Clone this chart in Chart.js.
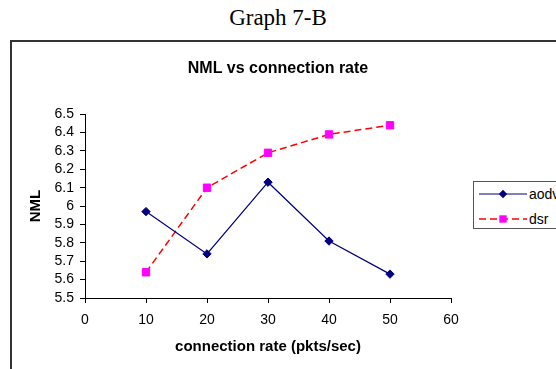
<!DOCTYPE html>
<html>
<head>
<meta charset="utf-8">
<script src="https://cdn.jsdelivr.net/npm/chart.js@4/dist/chart.umd.min.js"></script>
<style>
  html, body { margin: 0; padding: 0; width: 556px; height: 369px; overflow: hidden; background: #fff; }
  #page { position: relative; width: 556px; height: 369px; overflow: hidden; }
  #heading { position: absolute; left: 0; top: 4px; width: 556px; text-align: center;
             font-family: "Liberation Serif", "Times New Roman", serif; font-size: 23px; color: #000; line-height: 28px; }
  #frame { position: absolute; left: 10px; top: 40px; width: 600px; height: 400px;
           border: 2px solid #333; box-sizing: border-box; }
  #c { position: absolute; left: 0; top: 0; }
  #legend { position: absolute; left: 473px; top: 181px; width: 120px; height: 48px;
            border: 1px solid #555; box-sizing: border-box; background: #fff; z-index: 2; }
  .row { position: absolute; left: 0; height: 20px; width: 120px; }
  .row svg { position: absolute; left: 5px; top: 0; }
  .row span { position: absolute; left: 55px; top: 1px; font-family: "Liberation Sans", Arial, sans-serif;
              font-size: 14px; line-height: 18px; color: #000; }
</style>
</head>
<body>
<div id="page">
  <div id="frame"></div>
  <div id="heading">Graph 7-B</div>
  <canvas id="c" width="556" height="369"></canvas>
  <div id="legend"></div>
</div>
<script>
// ---- data ----
const categories = [10, 20, 30, 40, 50];          // connection rate (pkts/sec)
const aodvValues = [5.97, 5.74, 6.13, 5.81, 5.63];
const dsrValues  = [5.64, 6.10, 6.29, 6.39, 6.44];
const seriesNames = ['aodv', 'dsr'];
const xRange = [0, 60];
const xStep = 10;
const yRange = [5.5, 6.5];
const yStep = 0.1;
const chartTitle = 'NML vs connection rate';
const xTitle = 'connection rate (pkts/sec)';
const yTitle = 'NML';

const styles = [
  { color: '#000080', fill: '#000080', dash: [], width: 1.2, point: 'rectRot', radius: 4.2 },
  { color: '#FF0000', fill: '#FF00FF', dash: [7, 4], width: 1.5, point: 'rect', radius: 5.2 }
];

const seriesValues = [aodvValues, dsrValues];
const datasets = seriesValues.map((vals, s) => ({
  label: seriesNames[s],
  data: categories.map((x, i) => ({ x: x, y: vals[i] })),
  borderColor: styles[s].color,
  borderWidth: styles[s].width,
  borderDash: styles[s].dash,
  backgroundColor: styles[s].fill,
  pointStyle: styles[s].point,
  pointRadius: styles[s].radius,
  pointHoverRadius: styles[s].radius,
  pointBackgroundColor: styles[s].fill,
  pointBorderColor: styles[s].fill,
  pointBorderWidth: 1,
  tension: 0,
  fill: false
}));

const FONT = '"Liberation Sans", Arial, sans-serif';

// centre the chart title on the whole canvas rather than on the padded area
const centerTitle = {
  id: 'centerTitle',
  afterLayout(chart) {
    const t = chart.titleBlock;
    if (t) { t.left = 0; t.right = chart.width; t.width = chart.width; }
  }
};

new Chart(document.getElementById('c'), {
  type: 'line',
  data: { datasets: datasets },
  plugins: [centerTitle],
  options: {
    responsive: false,
    animation: false,
    devicePixelRatio: 1,
    layout: { padding: { left: 0, right: 105, top: 0, bottom: 0 } },
    plugins: {
      legend: { display: false },
      tooltip: { enabled: false },
      title: {
        display: true,
        text: chartTitle,
        color: '#000',
        font: { family: FONT, size: 16, weight: 'bold', lineHeight: 1.2 },
        padding: { top: 59, bottom: 36 }
      }
    },
    scales: {
      x: {
        type: 'linear',
        min: xRange[0], max: xRange[1],
        afterFit: (s) => { s.height = 71; },
        ticks: { stepSize: xStep, color: '#000', font: { family: FONT, size: 14 }, padding: 9, maxRotation: 0, autoSkip: false },
        grid: { drawOnChartArea: false, drawTicks: true, tickLength: 5, color: '#000', tickColor: '#000', tickWidth: 1 },
        border: { display: true, color: '#000', width: 1 },
        title: { display: true, text: xTitle, color: '#000', font: { family: FONT, size: 15, weight: 'bold', lineHeight: 1.2 }, padding: { top: 0, bottom: 13 } }
      },
      y: {
        type: 'linear',
        min: yRange[0], max: yRange[1],
        afterFit: (s) => { s.width = 85; },
        ticks: { stepSize: yStep, color: '#000', font: { family: FONT, size: 14 }, padding: 6, autoSkip: false,
                 callback: (v) => String(parseFloat(Number(v).toFixed(1))) },
        grid: { drawOnChartArea: false, drawTicks: true, tickLength: 5, color: '#000', tickColor: '#000', tickWidth: 1 },
        border: { display: true, color: '#000', width: 1 },
        title: { display: true, text: yTitle, color: '#000', font: { family: FONT, size: 15, weight: 'bold', lineHeight: 1.2 }, padding: { top: 27, bottom: 0 } }
      }
    }
  }
});

// ---- HTML legend built from the series ----
const legend = document.getElementById('legend');
const NS = 'http://www.w3.org/2000/svg';
seriesNames.forEach((name, s) => {
  const st = styles[s];
  const row = document.createElement('div');
  row.className = 'row';
  row.style.top = (s === 0 ? 2 : 27) + 'px';
  const svg = document.createElementNS(NS, 'svg');
  svg.setAttribute('width', '50'); svg.setAttribute('height', '20');
  const line = document.createElementNS(NS, 'line');
  line.setAttribute('x1', '0'); line.setAttribute('x2', '48');
  line.setAttribute('y1', '10'); line.setAttribute('y2', '10');
  line.setAttribute('stroke', st.color); line.setAttribute('stroke-width', st.width);
  if (st.dash.length) line.setAttribute('stroke-dasharray', st.dash.join(' '));
  svg.appendChild(line);
  let marker;
  if (st.point === 'rect') {
    marker = document.createElementNS(NS, 'rect');
    const h = st.radius * Math.SQRT1_2;
    marker.setAttribute('x', 24 - h); marker.setAttribute('y', 10 - h);
    marker.setAttribute('width', 2 * h); marker.setAttribute('height', 2 * h);
  } else {
    marker = document.createElementNS(NS, 'polygon');
    const r = st.radius;
    marker.setAttribute('points', `${24 - r},10 24,${10 - r} ${24 + r},10 24,${10 + r}`);
  }
  marker.setAttribute('fill', st.fill);
  svg.appendChild(marker);
  row.appendChild(svg);
  const label = document.createElement('span');
  label.textContent = name;
  row.appendChild(label);
  legend.appendChild(row);
});
</script>
</body>
</html>
